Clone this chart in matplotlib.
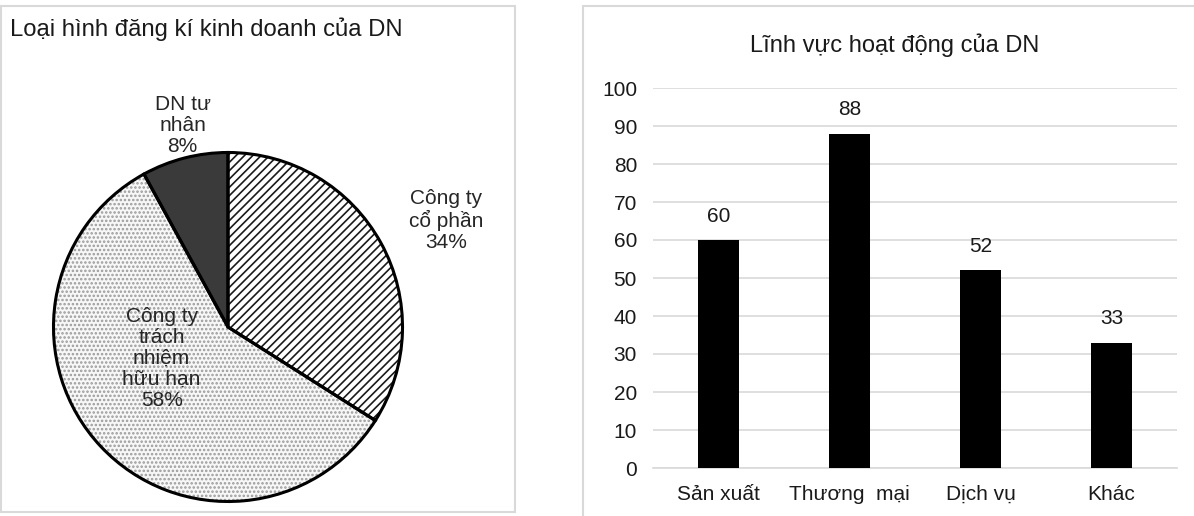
import matplotlib
matplotlib.use("Agg")
import matplotlib.pyplot as plt
from matplotlib.patches import Rectangle

plt.rcParams['font.family'] = ['Liberation Sans', 'DejaVu Sans']
plt.rcParams['hatch.linewidth'] = 1.2

# pie data (clockwise from top)
pie_labels = ["Công ty\ncổ phần\n34%", "Công ty\ntrách\nnhiệm\nhữu hạn\n58%", "DN tư\nnhân\n8%"]
pie_values = [34, 58, 8]
pie_colors = ["white", "#f7f7f7", "#3a3a3a"]
pie_hatches = ["////", "....", None]
hatch_colors = ["#1a1a1a", "#9a9a9a", "#3a3a3a"]

# bar data
categories = ["Sản xuất", "Thương  mại", "Dịch vụ", "Khác"]
counts = [60, 88, 52, 33]

W, H = 1194, 516
fig = plt.figure(figsize=(W / 100, H / 100), dpi=100)

def fx(px):
    return px / W

def fy(py):
    return 1 - py / H

# panel borders
fig.add_artist(Rectangle((fx(1), fy(512)), fx(514), (512 - 6) / H, transform=fig.transFigure,
                         fill=False, edgecolor="#d9d9d9", linewidth=1.5))
fig.add_artist(Rectangle((fx(583), fy(520)), fx(620), (520 - 6) / H, transform=fig.transFigure,
                         fill=False, edgecolor="#d9d9d9", linewidth=1.5))

# ---- pie ----
cx, cy, r = 228, 327, 178
ax1 = fig.add_axes([fx(cx - r), fy(cy + r), fx(2 * r), 2 * r / H])
# fills + hatches (hatch colour follows edge colour)
wedges, _ = ax1.pie(pie_values, colors=pie_colors, startangle=90, counterclock=False,
                    wedgeprops=dict(linewidth=0))
for w, h, hc in zip(wedges, pie_hatches, hatch_colors):
    w.set_edgecolor(hc)
    if h:
        w.set_hatch(h)
# black outlines on top
ax1.pie(pie_values, colors=["none"] * 3, startangle=90, counterclock=False,
        wedgeprops=dict(edgecolor="black", linewidth=2.2))
ax1.set_xlim(-1.02, 1.02)
ax1.set_ylim(-1.02, 1.02)
ax1.set_aspect("auto")
ax1.axis("off")

label_pos = [(1.25, 0.61), (-0.38, -0.18), (-0.26, 1.155)]
for lab, (lx, ly) in zip(pie_labels, label_pos):
    ax1.text(lx, ly, lab, ha="center", va="center", fontsize=15, color="#262626",
             linespacing=1.12)

fig.text(fx(10), fy(36), "Loại hình đăng kí kinh doanh của DN", fontsize=17.2,
         ha="left", va="baseline", color="#1a1a1a")

# ---- bars ----
ax2 = fig.add_axes([fx(653), fy(468), fx(1177 - 653), (468 - 88) / H])
x = range(len(categories))
ax2.bar(x, counts, width=0.32, color="black", zorder=3)
ax2.set_xlim(-0.5, len(categories) - 0.5)
ax2.set_ylim(0, 100)
ax2.set_yticks(range(0, 101, 10))
ax2.set_xticks(list(x))
ax2.set_xticklabels(categories)
ax2.grid(axis="y", color="#d9d9d9", linewidth=1.2, zorder=0)
for s in ["top", "right", "left"]:
    ax2.spines[s].set_visible(False)
ax2.spines["bottom"].set_color("#d9d9d9")
ax2.spines["bottom"].set_linewidth(1.2)
ax2.tick_params(axis="both", length=0, labelsize=15, labelcolor="#1a1a1a")
ax2.tick_params(axis="y", pad=11.5)
ax2.tick_params(axis="x", pad=12)
for xi, v in zip(x, counts):
    ax2.annotate(str(v), (xi, v), xytext=(0, 17), textcoords="offset points",
                 ha="center", va="center", fontsize=15, color="#1a1a1a")

fig.text(fx(895), fy(52), "Lĩnh vực hoạt động của DN", fontsize=17, ha="center",
         va="baseline", color="#1a1a1a")

fig.savefig("out.png", dpi=100, facecolor="white")
